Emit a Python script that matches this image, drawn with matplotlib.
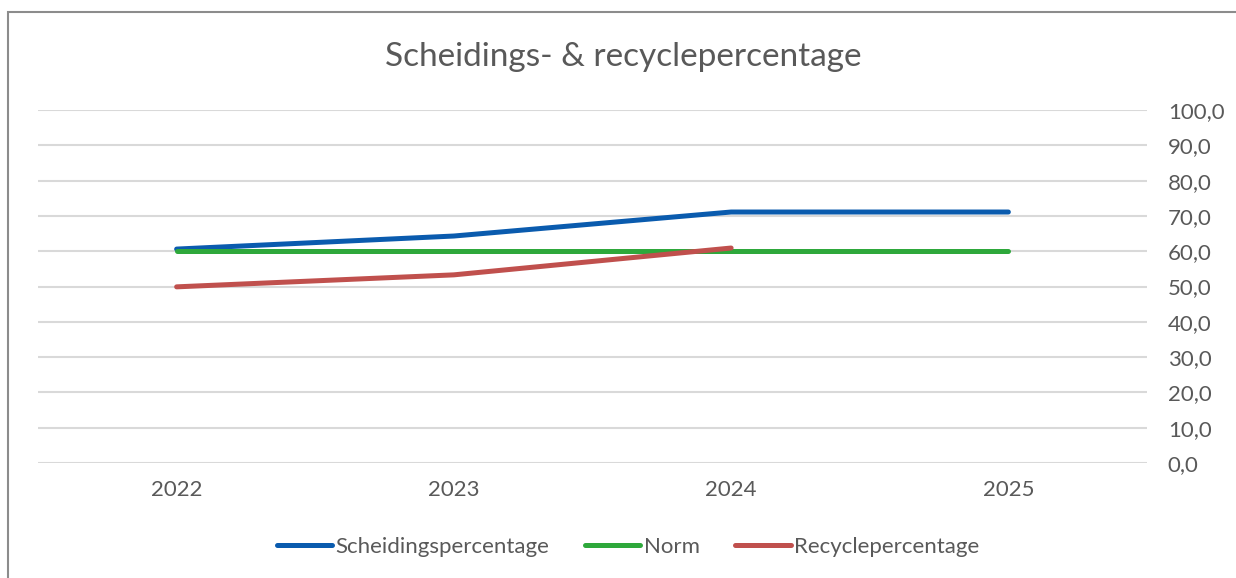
import matplotlib.pyplot as plt
from matplotlib.patches import Rectangle

YEARS = ['2022', '2023', '2024', '2025']
SCHEIDING = [60.6, 64.3, 71.1, 71.1]
NORM = [60.0, 60.0, 60.0, 60.0]
RECYCLE = [49.9, 53.3, 60.9]

TEXT_COLOR = '#595959'
plt.rcParams['font.family'] = ['Lato', 'DejaVu Sans']

fig = plt.figure(figsize=(12.36, 5.78), dpi=100)
ax = fig.add_axes([38 / 1236, 115 / 578, (1147 - 38) / 1236, 353 / 578])

x = list(range(len(YEARS)))
ax.plot(x, SCHEIDING, color='#0A5BAE', linewidth=3.6, solid_capstyle='round',
        label='Scheidingspercentage', zorder=3)
ax.plot(x, NORM, color='#2EA83B', linewidth=3.6, solid_capstyle='round',
        label='Norm', zorder=3)
ax.plot(x[:len(RECYCLE)], RECYCLE, color='#C0504D', linewidth=3.6,
        solid_capstyle='round', label='Recyclepercentage', zorder=3)

ax.set_xlim(-0.5, len(YEARS) - 0.5)
ax.set_ylim(0, 100)
ax.set_xticks(x)
ax.set_xticklabels(YEARS)
ax.set_yticks(range(0, 101, 10))
ax.set_yticklabels([f'{v},0' for v in range(0, 101, 10)])
ax.yaxis.tick_right()
ax.tick_params(length=0, labelsize=16, colors=TEXT_COLOR)
ax.tick_params(axis='y', pad=15)
ax.tick_params(axis='x', pad=12)
ax.grid(axis='y', color='#D9D9D9', linewidth=1.5)
ax.set_axisbelow(True)
for s in ax.spines.values():
    s.set_visible(False)

fig.text(623 / 1236, 1 - 57 / 578, 'Scheidings- & recyclepercentage',
         ha='center', va='center', fontsize=24, color=TEXT_COLOR)

fig.legend(loc='center', bbox_to_anchor=(628 / 1236, 1 - 547 / 578), ncol=3,
           frameon=False, fontsize=16, handlelength=2.5, handletextpad=0.15,
           columnspacing=1.6, labelcolor=TEXT_COLOR)

fig.patches.append(Rectangle((8 / 1236, -0.05), 1.2, 1 - 12 / 578 + 0.05,
                             transform=fig.transFigure, fill=False,
                             edgecolor='#8C8C8C', linewidth=1.5))

fig.savefig('out.png', dpi=100)
